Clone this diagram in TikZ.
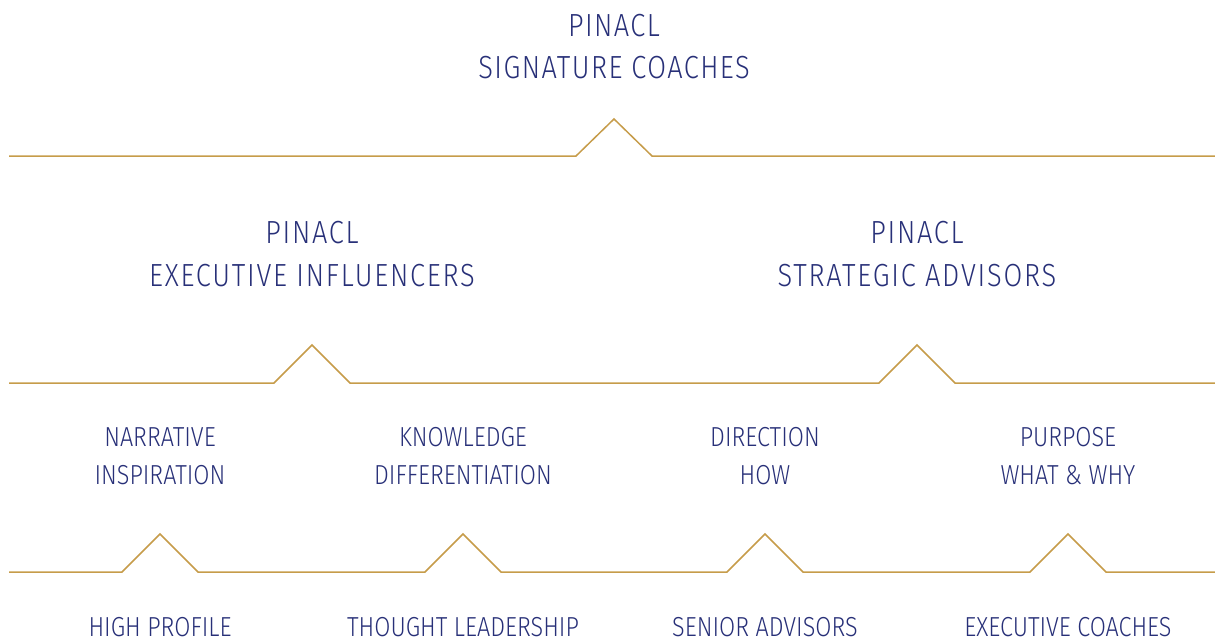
\documentclass[tikz,border=0pt]{standalone}
\usepackage{fontspec}
\newfontfamily\labA{Fira Sans Light}[FakeStretch=0.85,LetterSpace=4.5]
\newfontfamily\labB{Fira Sans Light}[FakeStretch=0.85,LetterSpace=5.5]
\newfontfamily\labC{Fira Sans Light}[FakeStretch=0.85]
\definecolor{navy}{RGB}{40,48,120}
\definecolor{gold}{RGB}{198,156,74}
\begin{document}
\begin{tikzpicture}[x=1pt,y=-1pt,
  big/.style={text=navy,font=\labA\fontsize{32}{42}\selectfont,anchor=base,inner sep=0pt},
  mid/.style={text=navy,font=\labB\fontsize{32}{43}\selectfont,anchor=base,inner sep=0pt},
  small/.style={text=navy,font=\labC\fontsize{27.5}{38}\selectfont,anchor=base,inner sep=0pt},
  rule/.style={draw=gold,line width=1.5pt,line join=miter}]
\useasboundingbox (0,0) rectangle (1215,640);
% level 1
\node[big] (t1a) at (614,36) {PINACL};
\node[big] (t1b) at (614,78) {SIGNATURE COACHES};
\draw[rule] (9,156) -- (576,156) -- (614,119) -- (652,156) -- (1215,156);
% level 2
\node[mid] (t2a) at (312,243) {PINACL};
\node[mid] (t2b) at (312,286) {EXECUTIVE INFLUENCERS};
\node[mid] (t3a) at (917,243) {PINACL};
\node[mid] (t3b) at (917,286) {STRATEGIC ADVISORS};
\draw[rule] (9,383) -- (274,383) -- (312,345) -- (350,383) -- (879,383) -- (917,345) -- (955,383) -- (1215,383);
% level 3
\node[small] (a1) at (160,446) {NARRATIVE};
\node[small] (a2) at (160,484) {INSPIRATION};
\node[small] (b1) at (463,446) {KNOWLEDGE};
\node[small] (b2) at (463,484) {DIFFERENTIATION};
\node[small] (c1) at (765,446) {DIRECTION};
\node[small] (c2) at (765,484) {HOW};
\node[small] (d1) at (1068,446) {PURPOSE};
\node[small] (d2) at (1068,484) {WHAT \& WHY};
\draw[rule] (9,572) -- (122,572) -- (160,534) -- (198,572) -- (425,572) -- (463,534) -- (501,572) -- (727,572) -- (765,534) -- (803,572) -- (1030,572) -- (1068,534) -- (1106,572) -- (1215,572);
% bottom
\node[small] (e1) at (160,636) {HIGH PROFILE};
\node[small] (e2) at (463,636) {THOUGHT LEADERSHIP};
\node[small] (e3) at (765,636) {SENIOR ADVISORS};
\node[small] (e4) at (1068,636) {EXECUTIVE COACHES};
\end{tikzpicture}
\end{document}
